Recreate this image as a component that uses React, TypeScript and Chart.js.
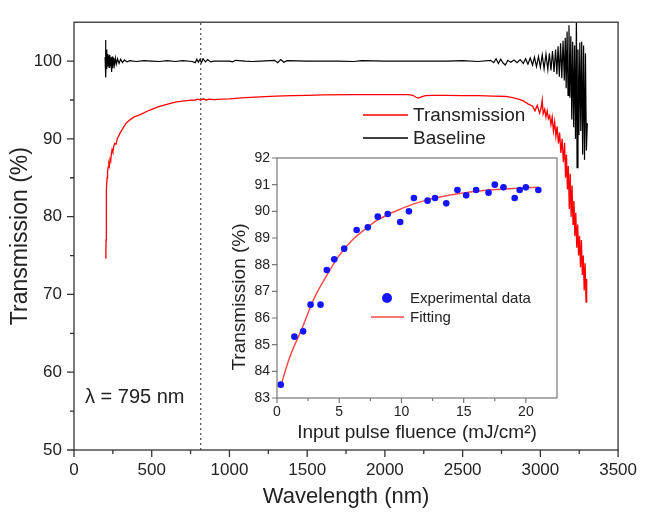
import React, { useEffect, useRef } from "react";
import { Chart, registerables } from "chart.js";

Chart.register(...registerables);

const FONT = '"Liberation Sans", Arial, sans-serif';

// ---------- Main chart data ----------
const xTickValues = [0, 500, 1000, 1500, 2000, 2500, 3000, 3500];
const xMinorTicks = [250, 750, 1250, 1750, 2250, 2750, 3250];
const yTickValues = [50, 60, 70, 80, 90, 100];
const yMinorTicks = [55, 65, 75, 85, 95];

const markerNm = [815, 815];
const markerPct = [50, 105];

const baselineNm = [
  200, 203, 205, 208, 211, 214, 218, 222, 226, 230, 234, 238, 242, 246, 250, 255, 260, 266, 272, 280,
  290, 300, 312, 325, 340, 360, 400, 450, 500, 550, 600, 650, 700, 760, 780, 790, 800, 810, 820, 830,
  845, 860, 880, 900, 1000, 1020, 1040, 1100, 1150, 1200, 1290, 1310, 1330, 1350, 1370, 1500, 1700, 1800, 1850, 2000,
  2200, 2400, 2500, 2600, 2680, 2700, 2715, 2730, 2745, 2760, 2775, 2790, 2810, 2830, 2850, 2870, 2890, 2905, 2920, 2935,
  2950, 2962, 2975, 2988, 3000, 3012, 3024, 3036, 3048, 3058, 3068, 3078, 3088, 3098, 3106, 3114, 3122, 3130, 3138, 3146,
  3154, 3160, 3166, 3172, 3178, 3184, 3190, 3196, 3202, 3208, 3214, 3220, 3226, 3232, 3236, 3242, 3248, 3254, 3260, 3266,
  3272, 3278, 3284, 3290, 3296, 3302,
];
const baselinePct = [
  100.5, 102.7, 97.9, 101.5, 99.0, 100.9, 99.3, 100.7, 99.2, 100.8, 99.4, 100.5, 98.6, 100.6, 99.1, 100.4, 99.5, 100.4, 99.6, 100.3,
  99.7, 100.25, 99.8, 100.15, 99.9, 100.05, 99.95, 100.05, 100.0, 99.95, 100.05, 99.95, 100.05, 99.95, 99.8, 100.25, 99.85, 100.2, 99.8, 100.3,
  99.9, 100.2, 99.9, 100.0, 100.0, 99.9, 100.1, 100.0, 99.95, 100.0, 100.1, 99.8, 100.2, 99.85, 100.05, 100.0, 100.0, 99.95, 100.05, 100.0,
  100.0, 100.0, 100.05, 99.95, 100.1, 99.8, 100.3, 99.7, 100.25, 99.75, 99.5, 100.1, 99.85, 100.15, 99.8, 100.2, 99.7, 100.3, 99.6, 100.4,
  99.5, 100.5, 99.3, 100.6, 99.2, 100.8, 99.0, 100.9, 98.9, 101.0, 98.8, 101.3, 98.6, 101.5, 98.3, 101.9, 98.0, 102.3, 97.8, 102.6,
  97.5, 103.0, 96.5, 103.8, 95.6, 104.6, 95.3, 103.2, 92.5, 102.5, 91.5, 102.0, 90.0, 106.0, 86.3, 101.5, 90.5, 102.4, 91.0, 102.5,
  88.0, 102.0, 87.3, 101.0, 88.5, 92.0,
];

const transNm = [
  205, 206, 207, 208, 210, 213, 216, 220, 224, 228, 232, 236, 240, 245, 250, 255, 262, 270, 278, 288,
  298, 310, 322, 335, 350, 370, 390, 410, 440, 470, 500, 540, 580, 620, 660, 700, 740, 780, 800, 815,
  830, 850, 870, 900, 950, 1000, 1100, 1200, 1300, 1400, 1500, 1600, 1800, 2000, 2150, 2180, 2200, 2215, 2235, 2260,
  2300, 2400, 2500, 2600, 2700, 2780, 2820, 2860, 2890, 2920, 2950, 2965, 2980, 2995, 3005, 3012, 3018, 3028, 3036, 3044,
  3052, 3060, 3068, 3076, 3084, 3092, 3100, 3108, 3116, 3124, 3132, 3140, 3148, 3156, 3162, 3168, 3174, 3180, 3186, 3192,
  3198, 3204, 3210, 3216, 3222, 3228, 3234, 3240, 3246, 3252, 3258, 3264, 3270, 3276, 3282, 3288, 3294, 3298,
];
const transPct = [
  74.6, 77.0, 79.5, 81.5, 83.5, 85.0, 85.8, 86.4, 86.8, 86.5, 87.4, 87.2, 88.0, 88.6, 88.3, 89.0, 89.4, 89.3, 90.0, 90.4,
  90.8, 91.2, 91.6, 92.0, 92.3, 92.6, 92.85, 93.0, 93.25, 93.55, 93.8, 94.1, 94.35, 94.55, 94.75, 94.85, 94.95, 95.0, 95.1, 94.95,
  95.15, 95.0, 95.1, 95.05, 95.1, 95.15, 95.3, 95.4, 95.5, 95.55, 95.6, 95.65, 95.7, 95.7, 95.7, 95.6, 95.35, 95.25, 95.4, 95.55,
  95.6, 95.6, 95.55, 95.55, 95.5, 95.45, 95.3, 95.1, 94.9, 94.5, 94.2, 93.6, 94.3, 93.3, 94.0, 95.0, 93.2, 93.8, 92.8, 93.6,
  92.6, 93.0, 91.8, 92.8, 91.0, 92.2, 90.3, 91.6, 89.4, 90.8, 88.2, 90.0, 87.0, 89.5, 85.0, 88.0, 83.5, 86.5, 81.0, 85.5,
  80.0, 84.0, 79.0, 82.0, 77.5, 80.5, 76.0, 79.0, 75.0, 77.5, 73.5, 77.0, 72.5, 75.0, 70.5, 74.0, 69.0, 72.0,
];

// ---------- Inset data ----------
const insetXTicks = [0, 5, 10, 15, 20];
const insetXMinor = [2.5, 7.5, 12.5, 17.5];
const insetYTicks = [83, 84, 85, 86, 87, 88, 89, 90, 91, 92];

const fluence = [
  0.3, 1.4, 2.1, 2.7, 3.5, 4.0, 4.6, 5.4, 6.4, 7.3, 8.1, 8.9, 9.9, 10.6,
  11.0, 12.1, 12.7, 13.6, 14.5, 15.2, 16.0, 17.0, 17.5, 18.2, 19.1, 19.5, 20.0, 21.0,
];
const measuredT = [
  83.5, 85.3, 85.5, 86.5, 86.5, 87.8, 88.2, 88.6, 89.3, 89.4, 89.8, 89.9, 89.6, 90.0,
  90.5, 90.4, 90.5, 90.3, 90.8, 90.6, 90.8, 90.7, 91.0, 90.9, 90.5, 90.8, 90.9, 90.8,
];

const fitFluence = [0.3, 1, 2, 3, 4, 5, 6, 7, 8, 9, 10, 11, 12, 13, 14, 15, 16, 17, 18, 19, 20, 21];
const fitT = [
  83.45, 84.5, 85.6, 86.75, 87.6, 88.35, 88.9, 89.3, 89.65, 89.9, 90.1, 90.28, 90.42, 90.53, 90.62,
  90.69, 90.75, 90.8, 90.83, 90.86, 90.88, 90.9,
];

const W = 647;
const H = 513;

const toXY = (xs: number[], ys: number[]) => xs.map((x, i) => ({ x, y: ys[i] }));
const plainLabel = (v: any) => String(v);

function makeFramePlugin(cfg: {
  color: string;
  width: number;
  xMajor: number[];
  xMinor: number[];
  yMajor: number[];
  yMinor: number[];
  majorLen: number;
  minorLen: number;
}) {
  return {
    id: "frameTicks",
    afterDraw(chart: any) {
      const { ctx, chartArea: a, scales } = chart;
      const xs = scales.x;
      const ys = scales.y;
      ctx.save();
      ctx.strokeStyle = cfg.color;
      ctx.lineWidth = cfg.width;
      ctx.strokeRect(a.left, a.top, a.right - a.left, a.bottom - a.top);
      ctx.beginPath();
      for (const v of cfg.xMajor) {
        const p = xs.getPixelForValue(v);
        ctx.moveTo(p, a.bottom);
        ctx.lineTo(p, a.bottom + cfg.majorLen);
      }
      for (const v of cfg.xMinor) {
        const p = xs.getPixelForValue(v);
        ctx.moveTo(p, a.bottom);
        ctx.lineTo(p, a.bottom + cfg.minorLen);
      }
      for (const v of cfg.yMajor) {
        const p = ys.getPixelForValue(v);
        ctx.moveTo(a.left, p);
        ctx.lineTo(a.left - cfg.majorLen, p);
      }
      for (const v of cfg.yMinor) {
        const p = ys.getPixelForValue(v);
        ctx.moveTo(a.left, p);
        ctx.lineTo(a.left - cfg.minorLen, p);
      }
      ctx.stroke();
      ctx.restore();
    },
  };
}

const mainTextPlugin = {
  id: "mainText",
  afterDraw(chart: any) {
    const { ctx } = chart;
    ctx.save();
    ctx.lineWidth = 1.5;
    ctx.strokeStyle = "#ff0000";
    ctx.beginPath();
    ctx.moveTo(363, 115);
    ctx.lineTo(408, 115);
    ctx.stroke();
    ctx.strokeStyle = "#000000";
    ctx.beginPath();
    ctx.moveTo(363, 138);
    ctx.lineTo(408, 138);
    ctx.stroke();
    ctx.fillStyle = "#222";
    ctx.font = `19px ${FONT}`;
    ctx.textBaseline = "middle";
    ctx.textAlign = "left";
    ctx.fillText("Transmission", 413, 116);
    ctx.fillText("Baseline", 413, 139);
    ctx.font = `20px ${FONT}`;
    ctx.fillText("λ = 795 nm", 85, 397);
    ctx.restore();
  },
};

const insetTextPlugin = {
  id: "insetText",
  afterDraw(chart: any) {
    const { ctx } = chart;
    ctx.save();
    ctx.fillStyle = "#1414ff";
    ctx.beginPath();
    ctx.arc(387, 298, 5, 0, Math.PI * 2);
    ctx.fill();
    ctx.strokeStyle = "#ff4a4a";
    ctx.lineWidth = 1.5;
    ctx.beginPath();
    ctx.moveTo(371, 317);
    ctx.lineTo(404, 317);
    ctx.stroke();
    ctx.fillStyle = "#222";
    ctx.font = `15px ${FONT}`;
    ctx.textBaseline = "middle";
    ctx.textAlign = "left";
    ctx.fillText("Experimental data", 410, 299);
    ctx.fillText("Fitting", 410, 318);
    ctx.translate(240, 297);
    ctx.rotate(-Math.PI / 2);
    ctx.textAlign = "center";
    ctx.font = `19px ${FONT}`;
    ctx.fillText("Transmission (%)", 0, 0);
    ctx.restore();
  },
};

export default function App() {
  const mainRef = useRef<HTMLCanvasElement>(null);
  const insetRef = useRef<HTMLCanvasElement>(null);

  useEffect(() => {
    const main = new Chart(mainRef.current as HTMLCanvasElement, {
      type: "line",
      data: {
        datasets: [
          {
            label: "Baseline",
            data: toXY(baselineNm, baselinePct),
            borderColor: "#000000",
            borderWidth: 1.2,
            pointRadius: 0,
            tension: 0,
          },
          {
            label: "Transmission",
            data: toXY(transNm, transPct),
            borderColor: "#ff0000",
            borderWidth: 1.3,
            pointRadius: 0,
            tension: 0,
          },
          {
            label: "marker",
            data: toXY(markerNm, markerPct),
            borderColor: "#555",
            borderWidth: 1.3,
            borderDash: [2, 3],
            pointRadius: 0,
          },
        ],
      },
      options: {
        responsive: false,
        devicePixelRatio: 1,
        animation: false,
        layout: { padding: { left: 0, top: 13, right: 21, bottom: 0 } },
        plugins: { legend: { display: false }, tooltip: { enabled: false } },
        scales: {
          x: {
            type: "linear",
            min: 0,
            max: 3500,
            grid: { display: false, drawTicks: false },
            border: { display: false },
            afterBuildTicks: (s: any) => {
              s.ticks = xTickValues.map((v) => ({ value: v }));
            },
            afterFit: (s: any) => {
              s.height = 63;
            },
            ticks: {
              font: { family: FONT, size: 17 },
              color: "#222",
              padding: 10,
              maxRotation: 0,
              callback: plainLabel,
            },
            title: {
              display: true,
              text: "Wavelength (nm)",
              font: { family: FONT, size: 22 },
              color: "#222",
              padding: { top: 0, bottom: 3 },
            },
          },
          y: {
            type: "linear",
            min: 50,
            max: 105,
            grid: { display: false, drawTicks: false },
            border: { display: false },
            afterBuildTicks: (s: any) => {
              s.ticks = yTickValues.map((v) => ({ value: v }));
            },
            afterFit: (s: any) => {
              s.width = 74;
            },
            ticks: { font: { family: FONT, size: 17 }, color: "#222", padding: 12, callback: plainLabel },
            title: {
              display: true,
              text: "Transmission (%)",
              font: { family: FONT, size: 23 },
              color: "#222",
              padding: { top: 7, bottom: 0 },
            },
          },
        },
      },
      plugins: [
        makeFramePlugin({
          color: "#333",
          width: 1.3,
          xMajor: xTickValues,
          xMinor: xMinorTicks,
          yMajor: yTickValues,
          yMinor: yMinorTicks,
          majorLen: 7,
          minorLen: 4,
        }),
        mainTextPlugin,
      ],
    } as any);

    const inset = new Chart(insetRef.current as HTMLCanvasElement, {
      type: "line",
      data: {
        datasets: [
          {
            label: "Experimental data",
            data: toXY(fluence, measuredT),
            showLine: false,
            pointRadius: 3.3,
            pointBackgroundColor: "#1414ff",
            pointBorderWidth: 0,
            borderColor: "#1414ff",
          },
          {
            label: "Fitting",
            data: toXY(fitFluence, fitT),
            borderColor: "#ff4a4a",
            borderWidth: 1.5,
            pointRadius: 0,
            tension: 0.4,
            cubicInterpolationMode: "monotone",
          },
        ],
      },
      options: {
        responsive: false,
        devicePixelRatio: 1,
        animation: false,
        layout: { padding: { left: 225, top: 158, right: 90, bottom: 63 } },
        plugins: { legend: { display: false }, tooltip: { enabled: false } },
        scales: {
          x: {
            type: "linear",
            min: 0,
            max: 22.5,
            grid: { display: false, drawTicks: false },
            border: { display: false },
            afterBuildTicks: (s: any) => {
              s.ticks = insetXTicks.map((v) => ({ value: v }));
            },
            afterFit: (s: any) => {
              s.height = 52;
            },
            ticks: {
              font: { family: FONT, size: 14 },
              color: "#222",
              padding: 6,
              maxRotation: 0,
              callback: plainLabel,
            },
            title: {
              display: true,
              text: "Input pulse fluence (mJ/cm²)",
              font: { family: FONT, size: 19 },
              color: "#222",
              padding: { top: 0, bottom: 6 },
            },
          },
          y: {
            type: "linear",
            min: 83,
            max: 92,
            grid: { display: false, drawTicks: false },
            border: { display: false },
            afterBuildTicks: (s: any) => {
              s.ticks = insetYTicks.map((v) => ({ value: v }));
            },
            afterFit: (s: any) => {
              s.width = 52;
            },
            ticks: { font: { family: FONT, size: 14 }, color: "#222", padding: 7, callback: plainLabel },
          },
        },
      },
      plugins: [
        makeFramePlugin({
          color: "#777",
          width: 1.2,
          xMajor: insetXTicks,
          xMinor: insetXMinor,
          yMajor: insetYTicks,
          yMinor: [],
          majorLen: 5,
          minorLen: 3,
        }),
        insetTextPlugin,
      ],
    } as any);

    return () => {
      main.destroy();
      inset.destroy();
    };
  }, []);

  return (
    <div
      style={{
        position: "absolute",
        left: 0,
        top: 0,
        width: W,
        height: H,
        background: "#ffffff",
        overflow: "hidden",
      }}
    >
      <canvas
        ref={mainRef}
        width={W}
        height={H}
        style={{ position: "absolute", left: 0, top: 0, width: W, height: H }}
      />
      <canvas
        ref={insetRef}
        width={W}
        height={H}
        style={{ position: "absolute", left: 0, top: 0, width: W, height: H }}
      />
    </div>
  );
}
